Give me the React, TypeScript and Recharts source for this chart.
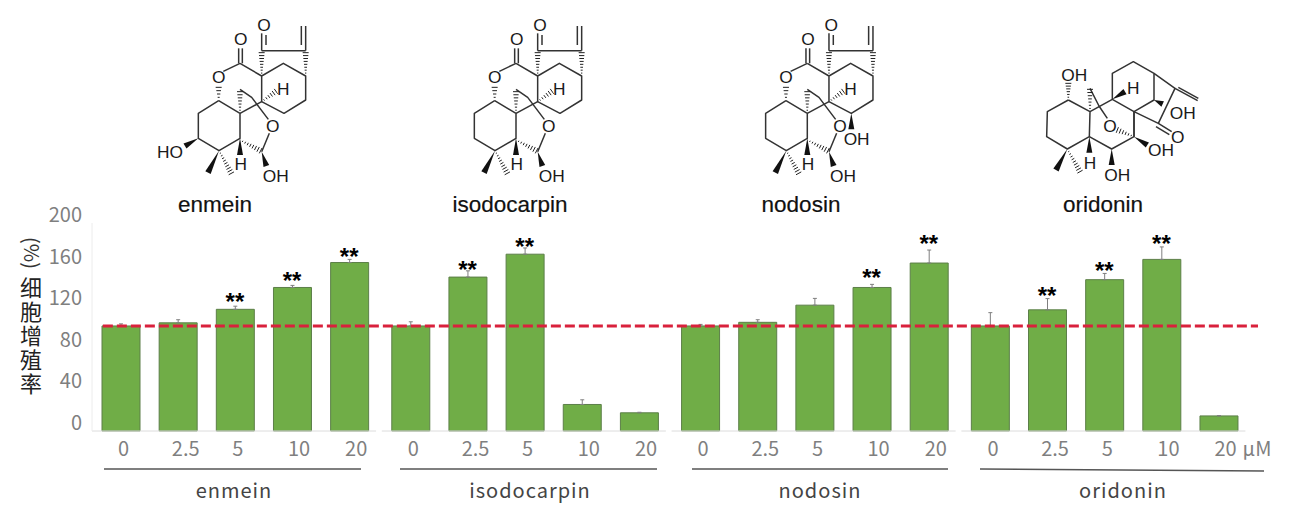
import {
  ComposedChart,
  Bar,
  Line,
  XAxis,
  YAxis,
  ErrorBar,
  LabelList,
  ReferenceLine,
} from 'recharts';

const compounds = ['enmein', 'isodocarpin', 'nodosin', 'oridonin'];
const doses = ['0', '2.5', '5', '10', '20'];

const enmeinValues = [101, 104, 117, 138, 162];
const isodocarpinValues = [101, 148, 170, 25.5, 17.5];
const nodosinValues = [101, 104.5, 121, 138, 161.5];
const oridoninValues = [101, 116.5, 145.5, 165, 14.5];

const enmeinErrors = [2, 3, 3, 2, 3];
const isodocarpinErrors = [4, 6, 6, 4.5, 0.5];
const nodosinErrors = [1.5, 2.5, 6.5, 3, 12.5];
const oridoninErrors = [12.8, 10.8, 6, 12, 0.3];

// height of the ** marks, null where a bar has none
const enmeinStars = [null, null, 127.5, 148.5, 171.5];
const isodocarpinStars = [null, 159, 180.5, null, null];
const nodosinStars = [null, null, null, 151, 183.5];
const oridoninStars = [null, 133.5, 157.5, 183.5, null];

const controlLevel = 101;
const yTicks = [0, 40, 80, 120, 160, 200];

const allValues = [enmeinValues, isodocarpinValues, nodosinValues, oridoninValues];
const allErrors = [enmeinErrors, isodocarpinErrors, nodosinErrors, oridoninErrors];
const allStars = [enmeinStars, isodocarpinStars, nodosinStars, oridoninStars];

// small extra gap between compounds, in bar slots
const GROUP_GAP = 0.07;

const rows = compounds.flatMap((compound, g) =>
  doses.map((dose, i) => ({
    compound,
    dose,
    pos: g * 5 + i + g * GROUP_GAP,
    value: allValues[g][i],
    err: allErrors[g][i],
    star: allStars[g][i],
  })),
);
const positions = rows.map((r) => r.pos);

const grey = '#7f7f7f';
const cjk = '"Noto Sans CJK JP", "Noto Sans", sans-serif';
const arial = '"Liberation Sans", Arial, sans-serif';

// the hand placed dose labels sit a bit right of their bars
const doseShift: Record<string, number> = { '0': 3, '2.5': 8, '5': 3, '10': 7, '20': 7 };

function YTick({ y, payload }: any) {
  return (
    <text x={82} y={y - 8} dy={7} textAnchor="end" fontSize={20} fill={grey} fontFamily={cjk}>
      {payload.value}
    </text>
  );
}

function XTick({ x, y, payload }: any) {
  const dose = doses[payload.index % 5];
  return (
    <text x={x + doseShift[dose]} y={449} dy={7} textAnchor="middle" fontSize={20} fill={grey} fontFamily={cjk}>
      {dose}
    </text>
  );
}

function StarLabel({ x, y, value }: any) {
  if (value == null) return null;
  return (
    <text x={x} y={y + 12} textAnchor="middle" fontSize={24} fontWeight="bold" fill="#000" fontFamily={arial}>
      **
    </text>
  );
}

type Pt = [number, number];
type Mol = {
  bonds: Pt[][];
  wedges: [Pt, Pt][];
  hashes: [Pt, Pt][];
  atoms: [string, number, number][];
};

function Hash({ from, to }: { from: Pt; to: Pt }) {
  const dx = to[0] - from[0];
  const dy = to[1] - from[1];
  const len = Math.hypot(dx, dy);
  const n = Math.round(len / 9);
  const nx = -dy / len;
  const ny = dx / len;
  const marks = [];
  for (let i = 1; i <= n; i++) {
    const t = i / n;
    const w = 1 + t * 8;
    const cx = from[0] + dx * t;
    const cy = from[1] + dy * t;
    marks.push(
      <line key={i} x1={cx - nx * w} y1={cy - ny * w} x2={cx + nx * w} y2={cy + ny * w} stroke="#222" strokeWidth={3} />,
    );
  }
  return <g>{marks}</g>;
}

function Wedge({ from, to }: { from: Pt; to: Pt }) {
  const dx = to[0] - from[0];
  const dy = to[1] - from[1];
  const len = Math.hypot(dx, dy);
  const nx = (-dy / len) * 9;
  const ny = (dx / len) * 9;
  return (
    <polygon
      points={`${from[0]},${from[1]} ${to[0] + nx},${to[1] + ny} ${to[0] - nx},${to[1] - ny}`}
      fill="#111"
    />
  );
}

// drawn in 3x zoomed units
function Molecule({ mol, x, y }: { mol: Mol; x: number; y: number }) {
  return (
    <g transform={`translate(${x} ${y}) scale(${1 / 3})`}>
      {mol.bonds.map((b, i) => (
        <polyline
          key={i}
          points={b.map((p) => p.join(',')).join(' ')}
          fill="none"
          stroke="#333"
          strokeWidth={4.5}
          strokeLinejoin="round"
        />
      ))}
      {mol.hashes.map((h, i) => (
        <Hash key={i} from={h[0]} to={h[1]} />
      ))}
      {mol.wedges.map((w, i) => (
        <Wedge key={i} from={w[0]} to={w[1]} />
      ))}
      {mol.atoms.map((a, i) => (
        <g key={i}>
          <circle cx={a[1]} cy={a[2]} r={a[0].length > 1 ? 0 : 20} fill="#fff" />
          <text
            x={a[1]}
            y={a[2] + 18}
            textAnchor="middle"
            fontSize={52}
            fill="#1a1a1a"
            fontFamily={arial}
          >
            {a[0]}
          </text>
        </g>
      ))}
    </g>
  );
}

const lactoneBonds: Pt[][] = [
  [[296, 190], [296, 145]],
  [[307, 190], [307, 145]],
  [[300, 190], [250, 214]],
  [[300, 190], [365, 228], [365, 305], [432, 340], [497, 300], [497, 228], [430, 190], [365, 228]],
  [[365, 152], [497, 152]],
  [[365, 152], [365, 100]],
  [[378, 135], [378, 105]],
  [[497, 152], [497, 78]],
  [[484, 135], [484, 78]],
  [[236, 302], [175, 340], [175, 415], [237, 452], [300, 415], [300, 340], [236, 302]],
  [[300, 340], [365, 305]],
  [[300, 268], [335, 292], [385, 358]],
  [[388, 400], [365, 455]],
];
const lactoneHashes: [Pt, Pt][] = [
  [[236, 302], [236, 262]],
  [[365, 228], [365, 158]],
  [[497, 228], [497, 158]],
  [[365, 305], [408, 274]],
  [[300, 340], [300, 275]],
  [[300, 420], [362, 452]],
  [[237, 452], [274, 520]],
];
const lactoneWedges: [Pt, Pt][] = [
  [[300, 415], [300, 465]],
  [[365, 455], [379, 498]],
  [[237, 452], [204, 518]],
];
const lactoneAtoms: [string, number, number][] = [
  ['O', 302, 118],
  ['O', 372, 76],
  ['O', 236, 232],
  ['O', 398, 378],
  ['H', 430, 268],
  ['H', 302, 492],
  ['OH', 407, 528],
];

const enmeinMol: Mol = {
  bonds: lactoneBonds,
  hashes: lactoneHashes,
  wedges: [...lactoneWedges, [[175, 415], [135, 438]]],
  atoms: [...lactoneAtoms, ['HO', 90, 457]],
};
const isodocarpinMol: Mol = {
  bonds: lactoneBonds,
  hashes: lactoneHashes,
  wedges: lactoneWedges,
  atoms: lactoneAtoms,
};
const nodosinMol: Mol = {
  bonds: lactoneBonds,
  hashes: lactoneHashes,
  wedges: [...lactoneWedges, [[432, 340], [432, 388]]],
  atoms: [...lactoneAtoms, ['OH', 448, 418]],
};
const oridoninMol: Mol = {
  bonds: [
    [[115, 210], [52, 245], [50, 320], [112, 357], [178, 320], [180, 245], [115, 210]],
    [[178, 320], [245, 357], [312, 320], [312, 245], [247, 208], [180, 245]],
    [[247, 208], [247, 130], [310, 95], [372, 130], [372, 210], [312, 245]],
    [[372, 130], [435, 175], [385, 280], [312, 245]],
    [[435, 175], [503, 212]],
    [[445, 172], [505, 205]],
    [[385, 280], [425, 305]],
    [[378, 290], [418, 314]],
    [[312, 245], [312, 320]],
    [[180, 175], [207, 228], [232, 265]],
  ],
  hashes: [
    [[115, 210], [115, 160]],
    [[112, 357], [150, 425]],
    [[180, 245], [180, 178]],
    [[312, 320], [262, 300]],
  ],
  wedges: [
    [[112, 357], [78, 420]],
    [[178, 320], [178, 368]],
    [[245, 357], [245, 405]],
    [[312, 320], [352, 345]],
    [[247, 208], [285, 185]],
    [[372, 210], [398, 222]],
  ],
  atoms: [
    ['OH', 133, 135],
    ['H', 180, 400],
    ['OH', 262, 435],
    ['OH', 393, 360],
    ['H', 310, 175],
    ['OH', 458, 250],
    ['O', 443, 320],
    ['O', 240, 288],
  ],
};

const structures = [
  { mol: enmeinMol, x: 140, y: 0, name: 'enmein', nx: 215, ny: 212 },
  { mol: isodocarpinMol, x: 416, y: 0, name: 'isodocarpin', nx: 510, ny: 212 },
  { mol: nodosinMol, x: 707.3, y: 0, name: 'nodosin', nx: 801, ny: 212 },
  { mol: oridoninMol, x: 1030, y: 30, name: 'oridonin', nx: 1103, ny: 212 },
];

const underlines = [
  [104, 361, 469, 469],
  [400, 657, 469, 469],
  [692, 948, 469, 469],
  [980, 1264, 469, 471],
];
const groupLabelX = [234, 530, 820, 1123];

export default function App() {
  return (
    <div style={{ position: 'absolute', left: 0, top: 0, width: 1289, height: 510, background: '#fff' }}>
      <ComposedChart
        width={1289}
        height={510}
        data={rows}
        margin={{ top: 223, right: 27, bottom: 49, left: 32 }}
      >
        <XAxis
          dataKey="pos"
          type="number"
          scale="linear"
          domain={[-0.5, 19.97]}
          ticks={positions}
          interval={0}
          height={30}
          axisLine={false}
          tickLine={false}
          tick={<XTick />}
        />
        <YAxis
          width={60}
          domain={[0, 200]}
          ticks={yTicks}
          interval={0}
          axisLine={{ stroke: '#ececec' }}
          tickLine={false}
          tick={<YTick />}
        />
        {compounds.map((c, g) => (
          <ReferenceLine
            key={c}
            stroke="#dcdcdc"
            segment={[
              { x: positions[g * 5] - 0.5, y: 0 },
              { x: positions[g * 5 + 4] + 0.47, y: 0 },
            ]}
          />
        ))}
        <Bar dataKey="value" barSize={38} fill="#70AD47" stroke="#5c7f48" strokeWidth={1} isAnimationActive={false}>
          <ErrorBar dataKey={(d: any) => [0, d.err]} direction="y" width={2} stroke={grey} strokeWidth={1} isAnimationActive={false} />
        </Bar>
        <Line dataKey="star" stroke="none" dot={false} legendType="none" connectNulls={false} isAnimationActive={false}>
          <LabelList dataKey="star" content={<StarLabel />} />
        </Line>
        <ReferenceLine
          stroke="#d9213c"
          strokeWidth={3}
          strokeDasharray="10 4"
          segment={[
            { x: -0.31, y: controlLevel },
            { x: 19.9, y: controlLevel },
          ]}
        />
      </ComposedChart>

      <svg width={1289} height={510} style={{ position: 'absolute', left: 0, top: 0, pointerEvents: 'none' }}>
        {structures.map((s) => (
          <g key={s.name}>
            <Molecule mol={s.mol} x={s.x} y={s.y} />
            <text x={s.nx} y={s.ny} textAnchor="middle" fontSize={22.5} fill="#111" stroke="#111" strokeWidth={0.2} fontFamily={arial}>
              {s.name}
            </text>
          </g>
        ))}
        {underlines.map((u, i) => (
          <line key={i} x1={u[0]} x2={u[1]} y1={u[2]} y2={u[3]} stroke="#555" strokeWidth={1.5} />
        ))}
        {compounds.map((c, i) => (
          <text key={c} x={groupLabelX[i]} y={498} textAnchor="middle" fontSize={20} letterSpacing={1} fill="#444" fontFamily={cjk}>
            {c}
          </text>
        ))}
        <text x={1257} y={456} textAnchor="middle" fontSize={20} fill={grey} fontFamily={cjk}>
          μM
        </text>
        <text x={31} y={253} transform="rotate(90 31 253)" dy={7} textAnchor="middle" fontSize={20} fill="#333" fontFamily={cjk}>
          (%)
        </text>
        <text
          x={31}
          y={277}
          fontSize={22}
          letterSpacing={2}
          fill="#222"
          fontFamily='"Noto Sans CJK SC", sans-serif'
          style={{ writingMode: 'vertical-rl', textOrientation: 'upright' }}
        >
          细胞增殖率
        </text>
      </svg>
    </div>
  );
}
